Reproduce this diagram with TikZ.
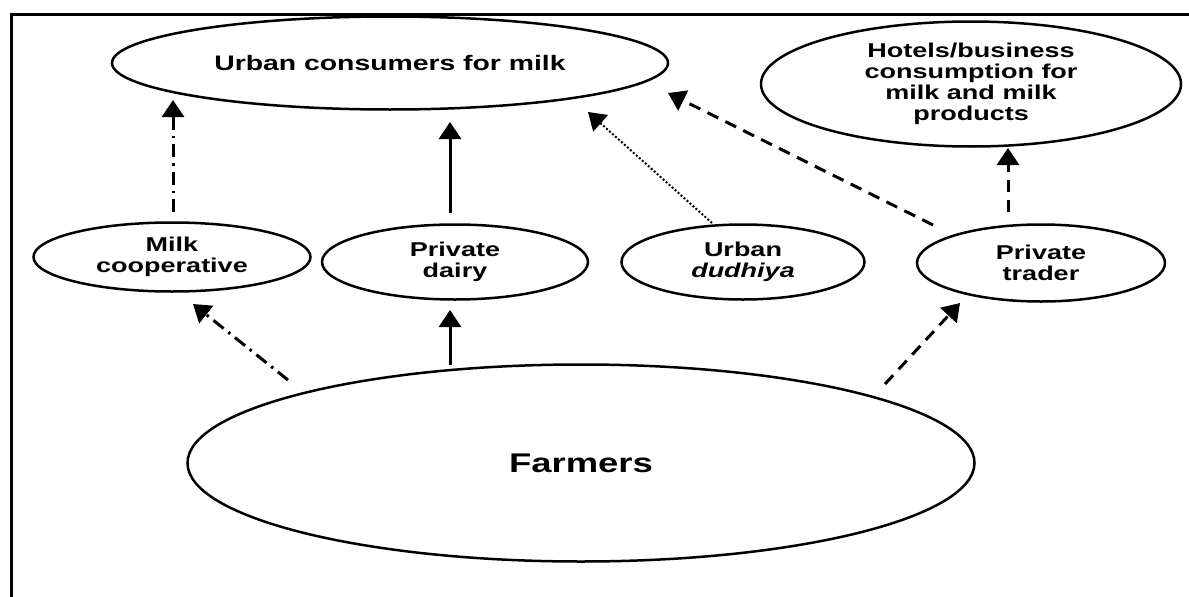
\documentclass[tikz,border=0pt]{standalone}
\usepackage{fontspec}
\newfontfamily\lab[FakeStretch=1.35]{Liberation Sans}
\usetikzlibrary{shapes.geometric,arrows.meta,calc}
\begin{document}
\begin{tikzpicture}[x=1pt,y=-1pt,
  box/.style={ellipse,draw,line width=2.5pt,inner sep=0pt,align=center,
    font=\lab\bfseries\fontsize{20}{21}\selectfont},
  arr/.style={line width=3pt,-{Triangle[length=17pt,width=22pt]}},
  dashdot/.style={dash pattern=on 13pt off 6pt on 2.5pt off 6pt},
  dashline/.style={dash pattern=on 12pt off 8pt},
  dotline/.style={line width=2pt,dash pattern=on 2pt off 2pt}
]
\useasboundingbox (0,0) rectangle (1189,597);
\draw[line width=3pt] (11,597) -- (11,14) -- (1189,14);

\node[box,minimum width=556pt,minimum height=93pt,font=\lab\bfseries\fontsize{21}{22}\selectfont] (urban) at (390,63) {Urban consumers for milk};
\node[box,minimum width=420pt,minimum height=125pt] (hotels) at (971,84) {Hotels/business\\consumption for\\milk and milk\\products};
\node[box,minimum width=277pt,minimum height=69pt] (coop) at (172,257) {Milk\\cooperative};
\node[box,minimum width=266pt,minimum height=75pt] (dairy) at (455,262) {Private\\dairy};
\node[box,minimum width=243pt,minimum height=75pt] (dudhiya) at (743,262) {Urban\\\textit{dudhiya}};
\node[box,minimum width=248pt,minimum height=77pt] (trader) at (1041,263) {Private\\trader};
\node[box,minimum width=787pt,minimum height=197pt,font=\lab\bfseries\fontsize{27}{30}\selectfont] (farmers) at (581,463) {Farmers};

\draw[arr,dashdot] ($(coop.center)+(1,-45)$) -- ($(urban.center)+(-217,37)$);
\draw[arr,dashdot] ($(farmers.center)+(-293,-83)$) -- ($(coop.center)+(21,47)$);
\draw[arr] ($(farmers.center)+(-131,-98)$) -- ($(dairy.center)+(-5,48)$);
\draw[arr] ($(dairy.center)+(-5,-49)$) -- ($(urban.center)+(60,59)$);
\draw[arr,dotline] ($(dudhiya.center)+(-31,-39)$) -- ($(urban.center)+(198,49)$);
\draw[arr,dashline] ($(trader.center)+(-108,-38)$) -- ($(urban.center)+(278,30)$);
\draw[arr,dashline] ($(trader.center)+(-33,-51)$) -- ($(hotels.center)+(37,64)$);
\draw[arr,dashline] ($(farmers.center)+(304,-79)$) -- ($(trader.center)+(-81,40)$);
\end{tikzpicture}
\end{document}
